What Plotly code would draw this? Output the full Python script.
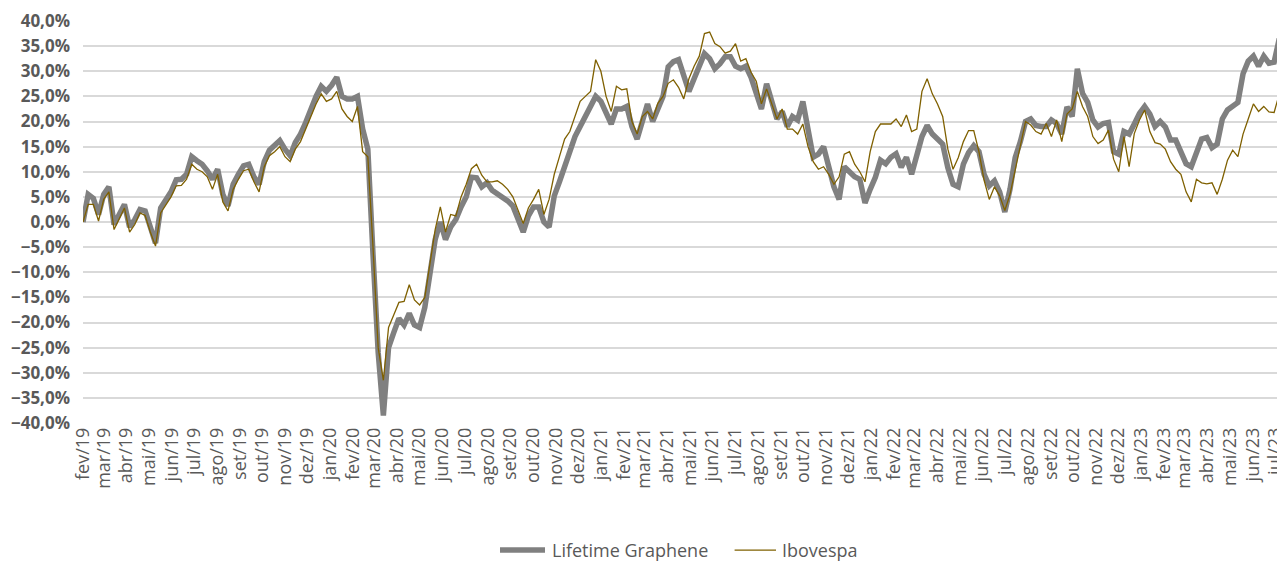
import pandas as pd
import plotly.graph_objects as go

# Weekly observations starting 2019-02-01 (cumulative return, %)
start_date = "2019-02-01"

lifetime = [
    0.0, 5.5, 4.7, 1.5, 5.5, 7.0, -0.5, 1.5, 3.5, -1.0,
    0.5, 2.5, 2.2, -1.0, -4.2, 2.8, 4.5, 6.0, 8.4, 8.5,
    9.5, 13.0, 12.2, 11.5, 10.2, 8.5, 10.5, 5.5, 3.2, 7.5,
    9.5, 11.2, 11.5, 9.0, 7.5, 12.0, 14.3, 15.2, 16.2, 14.5,
    13.2, 15.8, 17.5, 19.8, 22.5, 25.0, 27.0, 26.0, 27.2, 28.8,
    25.0, 24.5, 24.5, 25.0, 18.5, 14.5, -6.5, -26.0, -38.5, -25.0,
    -22.0, -19.2, -20.5, -18.2, -20.5, -21.0, -17.0, -10.5, -3.5, 0.0,
    -3.5, -1.0, 0.5, 3.0, 5.0, 8.9, 8.8, 7.0, 7.8, 6.3,
    5.6, 5.0, 4.2, 3.2, 0.8, -2.0, 1.2, 3.0, 3.0, 0.0,
    -1.0, 5.2, 8.0, 11.0, 14.5, 17.0, 19.0, 21.0, 22.5, 25.0,
    24.0, 22.0, 19.5, 22.5, 22.5, 23.0, 19.0, 16.5, 20.5, 23.5,
    20.0, 22.6, 25.0, 30.9, 31.9, 32.3, 29.5, 26.0, 28.5, 31.0,
    33.5, 32.5, 30.5, 31.5, 32.9, 32.9, 31.0, 30.5, 31.0, 28.8,
    26.0, 22.5, 27.5, 24.0, 20.5, 22.0, 19.0, 21.0, 20.3, 24.0,
    18.5, 12.9, 13.5, 15.0, 11.0, 7.0, 4.5, 11.0, 10.0, 9.0,
    8.5, 3.8, 6.5, 8.9, 12.3, 11.6, 12.9, 13.6, 10.9, 12.9,
    9.5, 13.5, 17.0, 19.2, 17.5, 16.5, 15.5, 10.8, 7.5, 7.0,
    11.5, 13.8, 15.2, 14.0, 9.5, 7.2, 8.2, 6.0, 2.0, 6.5,
    12.8, 16.0, 20.0, 20.5, 19.2, 19.0, 19.0, 20.3, 19.6, 17.5,
    22.9, 21.0, 30.5, 25.6, 23.8, 20.3, 18.9, 19.6, 19.8, 14.0,
    13.5, 18.0, 17.5, 19.5, 21.6, 23.0, 21.5, 19.0, 20.0, 18.9,
    16.3, 16.3, 13.6, 11.6, 11.0, 14.0, 16.5, 16.8, 14.8, 15.5,
    20.5, 22.3, 22.9, 23.8, 29.5, 32.0, 33.0, 31.0, 33.0, 31.6,
    31.8, 36.5,
]

ibovespa = [
    0.0, 3.5, 3.5, 0.2, 4.5, 6.0, -1.5, 0.5, 2.8, -2.0,
    -0.5, 1.8, 1.3, -2.0, -4.8, 1.8, 3.3, 5.0, 7.2, 7.3,
    8.5, 11.5, 10.5, 10.0, 9.0, 6.5, 9.5, 4.0, 2.2, 6.5,
    8.5, 10.2, 10.5, 8.0, 6.0, 11.0, 13.2, 14.0, 15.0, 13.0,
    12.0, 14.5, 16.0, 18.5, 21.0, 23.5, 25.5, 24.0, 24.5, 26.0,
    22.5, 21.0, 20.0, 23.0, 14.0, 13.0, -5.0, -25.0, -31.5, -21.0,
    -18.5, -16.0, -15.8, -12.5, -15.5, -16.5, -15.0, -8.0, -1.5, 3.0,
    -2.0, 1.5, 1.2, 5.0, 7.5, 10.6, 11.5, 9.3, 8.0, 8.0,
    8.2, 7.5, 6.5, 5.0, 2.5, -0.3, 2.8, 4.5, 6.5, 1.5,
    4.5, 9.5, 13.0, 16.5, 18.0, 21.0, 24.0, 25.0, 26.0, 32.3,
    30.0, 25.0, 22.0, 27.0, 26.3, 26.5, 20.0, 17.5, 21.0, 22.0,
    20.5, 23.6, 25.0, 27.6, 28.3, 26.8, 24.5, 28.5, 31.0, 33.0,
    37.5, 37.8, 35.5, 34.9, 33.6, 34.0, 35.5, 32.0, 32.5, 29.8,
    28.0, 23.5, 26.5, 23.5, 20.5, 22.5, 18.5, 18.5, 17.5, 19.5,
    15.0, 12.0, 10.5, 11.0, 9.5, 7.5, 9.0, 13.5, 14.0, 11.5,
    10.0, 8.0, 14.0, 18.0, 19.5, 19.5, 19.5, 20.5, 19.0, 21.3,
    18.0, 18.5, 26.0, 28.5, 25.5, 23.5, 21.0, 14.5, 10.5, 12.8,
    16.0, 18.2, 18.2, 14.0, 8.3, 4.5, 7.0, 5.2, 2.3, 5.5,
    10.5, 15.0, 20.0, 19.3, 18.0, 17.5, 19.6, 17.0, 20.3, 16.0,
    21.5, 22.5, 26.0, 23.0, 21.0, 17.0, 15.6, 16.3, 18.3, 12.5,
    10.0, 17.0, 11.0, 17.6, 20.3, 22.3, 18.0, 15.8, 15.5, 14.5,
    12.0, 10.5, 9.5, 6.0, 4.0, 8.5, 7.8, 7.6, 7.8, 5.5,
    8.5, 12.3, 14.3, 13.0, 17.5, 20.5, 23.5, 22.0, 23.0, 21.9,
    21.8, 25.5,
]

month_labels = [
    "fev/19", "mar/19", "abr/19", "mai/19", "jun/19", "jul/19", "ago/19", "set/19",
    "out/19", "nov/19", "dez/19", "jan/20", "fev/20", "mar/20", "abr/20", "mai/20",
    "jun/20", "jul/20", "ago/20", "set/20", "out/20", "nov/20", "dez/20", "jan/21",
    "fev/21", "mar/21", "abr/21", "mai/21", "jun/21", "jul/21", "ago/21", "set/21",
    "out/21", "nov/21", "dez/21", "jan/22", "fev/22", "mar/22", "abr/22", "mai/22",
    "jun/22", "jul/22", "ago/22", "set/22", "out/22", "nov/22", "dez/22", "jan/23",
    "fev/23", "mar/23", "abr/23", "mai/23", "jun/23", "jul/23",
]

series_names = ["Lifetime Graphene", "Ibovespa"]
series_colors = ["#808080", "#7F6000"]
series_widths = [5.5, 1.3]

dates = pd.date_range(start_date, periods=len(lifetime), freq="7D")
month_ticks = pd.date_range("2019-02-01", periods=len(month_labels), freq="MS")
x_end = "2023-07-12"

fig = go.Figure()
for name, vals, col, w in zip(series_names, [lifetime, ibovespa], series_colors, series_widths):
    fig.add_trace(go.Scatter(
        x=dates, y=vals, mode="lines", name=name,
        line=dict(color=col, width=w),
    ))

# legend drawn below the chart (line sample + label), in paper coordinates
legend_y = -0.316
legend_items = [(0.3475, 0.385, 0.389), (0.543, 0.5775, 0.581)]
for (x0, x1, xt), name, col, w in zip(legend_items, series_names, series_colors, series_widths):
    fig.add_shape(type="line", xref="paper", yref="paper", x0=x0, x1=x1,
                  y0=legend_y, y1=legend_y, line=dict(color=col, width=w))
    fig.add_annotation(xref="paper", yref="paper", x=xt, y=legend_y, text=name,
                       showarrow=False, xanchor="left", yanchor="middle",
                       font=dict(family="Open Sans", size=18, color="#595959"))

fig.update_layout(
    width=1277, height=555,
    margin=dict(l=75, r=2, t=13, b=140, autoexpand=False),
    paper_bgcolor="white", plot_bgcolor="white",
    separators=",.",
    showlegend=False,
    font=dict(family="Open Sans", color="#595959"),
)

fig.update_xaxes(
    type="date",
    range=[dates[0], x_end],
    tickvals=month_ticks, ticktext=month_labels,
    tickangle=-90,
    tickfont=dict(family="Open Sans", size=18, color="#595959"),
    ticklabeloverflow="allow",
    automargin=False,
    showgrid=False, zeroline=False, showline=False, ticks="",
)

fig.update_yaxes(
    range=[-40, 40], dtick=5, tick0=0,
    tickformat=".1f", ticksuffix="%",
    tickfont=dict(family="Open Sans", size=17, color="#595959", weight="bold"),
    ticklabelstandoff=12,
    automargin=False,
    showgrid=True, gridcolor="#D9D9D9", gridwidth=1.5,
    zeroline=False, showline=False, ticks="",
)

fig.write_html("out.html")
